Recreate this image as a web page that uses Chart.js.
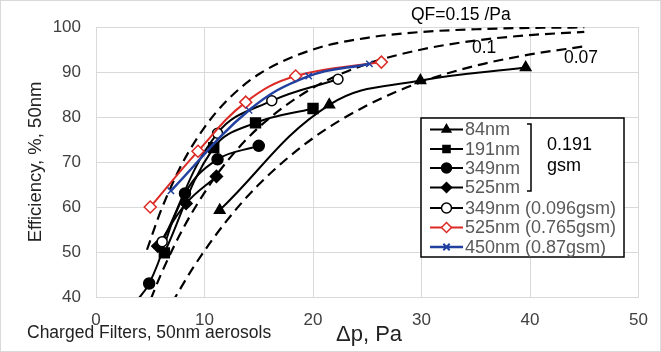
<!DOCTYPE html>
<html>
<head>
<meta charset="utf-8">
<script src="https://cdn.jsdelivr.net/npm/chart.js@4.4.1/dist/chart.umd.min.js"></script>
<style>
  body { margin: 0; background: #fff; }
  canvas { display: block; }
</style>
</head>
<body>
<canvas id="effChart" width="661" height="352"></canvas>
<script>
// Values (x = pressure drop Pa, y = efficiency %)
const dp84 = [11.4, 21.5, 29.9, 39.6];
const eff84 = [59.3, 82.7, 88.1, 91.0];
const dp191 = [6.3, 10.85, 14.7, 20.0];
const eff191 = [49.8, 73.2, 78.7, 81.9];
const dp349 = [2.5, 4.9, 8.2, 11.2, 15.0];
const eff349 = [36.0, 43.0, 63.0, 70.6, 73.6];
const dp525 = [5.7, 8.3, 11.1];
const eff525 = [51.3, 60.8, 66.8];
const dp349b = [6.1, 11.2, 16.2, 22.3];
const eff349b = [52.3, 76.4, 83.6, 88.4];
const dp525b = [5.0, 9.4, 13.8, 18.4, 26.3];
const eff525b = [60.0, 72.4, 83.3, 89.1, 92.2];
const dp450 = [6.9, 14.1, 19.6, 25.2];
const eff450 = [63.6, 81.5, 89.1, 91.8];

// dashed quality-factor curves
const qf15x = [4.7, 6, 8, 10, 12, 15, 20, 25, 30, 35, 40, 45];
const qf15y = [50.5, 59.3, 69.9, 77.7, 83.5, 89.5, 95.0, 97.6, 98.9, 99.5, 99.8, 99.9];
const qf10x = [4.5, 6, 8, 10, 12, 15, 20, 25, 30, 35, 40, 45];
const qf10y = [36.2, 45.1, 55.1, 63.2, 69.9, 77.7, 86.5, 91.8, 95.0, 97.0, 98.2, 98.9];
const qf07x = [7, 9, 12, 15, 20, 25, 30, 35, 40, 45];
const qf07y = [38.7, 46.7, 56.8, 65.0, 75.3, 82.6, 87.8, 91.4, 93.9, 95.7];

const legendLabels = ['84nm', '191nm', '349nm', '525nm', '349nm (0.096gsm)', '525nm (0.765gsm)', '450nm (0.87gsm)'];

const xTicks = [0, 10, 20, 30, 40, 50];
const yTicks = [40, 45, 50, 55, 60, 65, 70, 75, 80, 85, 90, 95, 100];

const RED = '#dc2b26';
const BLUE = '#22409f';
const FONT = '"Liberation Sans", Arial, sans-serif';

function pts(xs, ys) {
    return xs.map((x, i) => ({ x: x, y: ys[i] }));
}

function series(label, xs, ys, color, style, radius, fill, lw, order) {
    return {
        label: label,
        data: pts(xs, ys),
        showLine: true,
        borderColor: color,
        backgroundColor: fill,
        borderWidth: lw,
        tension: 0.4,
        pointStyle: style,
        pointRadius: radius,
        pointBorderWidth: 1.5,
        pointBorderColor: color,
        pointBackgroundColor: fill,
        order: order
    };
}

function dashed(label, xs, ys) {
    return {
        label: label,
        data: pts(xs, ys),
        showLine: true,
        borderColor: '#000',
        borderWidth: 2.2,
        borderDash: [10, 6],
        pointRadius: 0,
        cubicInterpolationMode: 'monotone',
        order: 10
    };
}

const datasets = [
    series(legendLabels[0], dp84, eff84, '#000', 'triangle', 6, '#000', 2, 5),
    series(legendLabels[1], dp191, eff191, '#000', 'rect', 7, '#000', 2, 5),
    series(legendLabels[2], dp349, eff349, '#000', 'circle', 5.5, '#000', 2, 5),
    series(legendLabels[3], dp525, eff525, '#000', 'rectRot', 6, '#000', 2, 5),
    series(legendLabels[4], dp349b, eff349b, '#000', 'circle', 5, '#fff', 2, 4),
    series(legendLabels[5], dp525b, eff525b, RED, 'rectRot', 6, '#fff', 2, 2),
    series(legendLabels[6], dp450, eff450, BLUE, 'crossRot', 4.5, BLUE, 2.5, 1),
    dashed('QF 0.15', qf15x, qf15y),
    dashed('QF 0.1', qf10x, qf10y),
    dashed('QF 0.07', qf07x, qf07y)
];

const overlay = {
    id: 'overlay',
    afterDraw(chart) {
        const ctx = chart.ctx;
        ctx.save();

        // outer frame
        ctx.strokeStyle = '#d9d9d9';
        ctx.lineWidth = 1;
        ctx.strokeRect(0.5, 0.5, 660, 351);

        ctx.fillStyle = '#000';
        ctx.textBaseline = 'middle';
        ctx.textAlign = 'left';
        ctx.font = '17.5px ' + FONT;
        ctx.fillText('QF=0.15 /Pa', 411, 15);
        ctx.fillText('0.1', 472, 48);
        ctx.fillText('0.07', 564, 58);

        // axis titles and caption
        ctx.fillStyle = '#222';
        ctx.fillText('Charged Filters, 50nm aerosols', 27, 333);
        ctx.font = '22px ' + FONT;
        ctx.fillText('\u0394p, Pa', 336, 335);
        ctx.save();
        ctx.translate(36, 162);
        ctx.rotate(-Math.PI / 2);
        ctx.textAlign = 'center';
        ctx.font = '18.5px ' + FONT;
        ctx.fillText('Efficiency, %, 50nm', 0, 0);
        ctx.restore();

        // legend box
        ctx.fillStyle = '#fff';
        ctx.fillRect(421, 118, 203, 139);
        ctx.strokeStyle = '#000';
        ctx.lineWidth = 1.5;
        ctx.strokeRect(421, 118, 203, 139);

        const rowY = [129.5, 149, 168, 187.5, 208, 227.5, 247];
        chart.data.datasets.slice(0, 7).forEach((ds, i) => {
            const y = rowY[i];
            ctx.strokeStyle = ds.borderColor;
            ctx.lineWidth = ds.borderWidth;
            ctx.setLineDash([]);
            ctx.beginPath();
            ctx.moveTo(430, y);
            ctx.lineTo(463, y);
            ctx.stroke();
            ctx.fillStyle = ds.pointBackgroundColor;
            ctx.strokeStyle = ds.pointBorderColor;
            ctx.lineWidth = ds.pointStyle === 'crossRot' ? 2 : 1.5;
            Chart.helpers.drawPoint(ctx, {
                pointStyle: ds.pointStyle,
                radius: Math.min(ds.pointRadius, 5),
                rotation: 0,
                borderWidth: ctx.lineWidth
            }, 446.5, y);
            ctx.fillStyle = '#595959';
            ctx.font = '18px ' + FONT;
            ctx.textAlign = 'left';
            ctx.fillText(ds.label, 465, y + 1);
        });

        // bracket and shared basis weight
        ctx.strokeStyle = '#000';
        ctx.lineWidth = 1.5;
        ctx.beginPath();
        ctx.moveTo(527, 124);
        ctx.lineTo(531, 124);
        ctx.lineTo(531, 191);
        ctx.lineTo(527, 191);
        ctx.stroke();
        ctx.fillStyle = '#000';
        ctx.font = '18px ' + FONT;
        ctx.fillText('0.191', 547, 145);
        ctx.fillText('gsm', 547, 166);

        ctx.restore();
    }
};

new Chart(document.getElementById('effChart'), {
    type: 'scatter',
    data: { datasets: datasets },
    options: {
        responsive: false,
        animation: false,
        layout: { padding: { top: 27, right: 18, left: 0, bottom: 0 } },
        plugins: {
            legend: { display: false },
            tooltip: { enabled: false }
        },
        scales: {
            x: {
                type: 'linear',
                min: 0,
                max: 50,
                afterFit: (s) => { s.height = 55; },
                afterBuildTicks: (s) => { s.ticks = xTicks.map(v => ({ value: v })); },
                grid: { color: '#d9d9d9', drawTicks: false },
                border: { color: '#d9d9d9' },
                ticks: {
                    padding: 13,
                    color: '#404040',
                    font: { size: 17, family: FONT }
                }
            },
            y: {
                type: 'linear',
                min: 40,
                max: 100,
                afterFit: (s) => { s.width = 96; },
                afterBuildTicks: (s) => { s.ticks = yTicks.map(v => ({ value: v })); },
                grid: { color: '#d9d9d9', drawTicks: false },
                border: { color: '#d9d9d9' },
                ticks: {
                    padding: 15,
                    color: '#404040',
                    font: { size: 17, family: FONT }
                }
            }
        }
    },
    plugins: [overlay]
});
</script>
</body>
</html>
